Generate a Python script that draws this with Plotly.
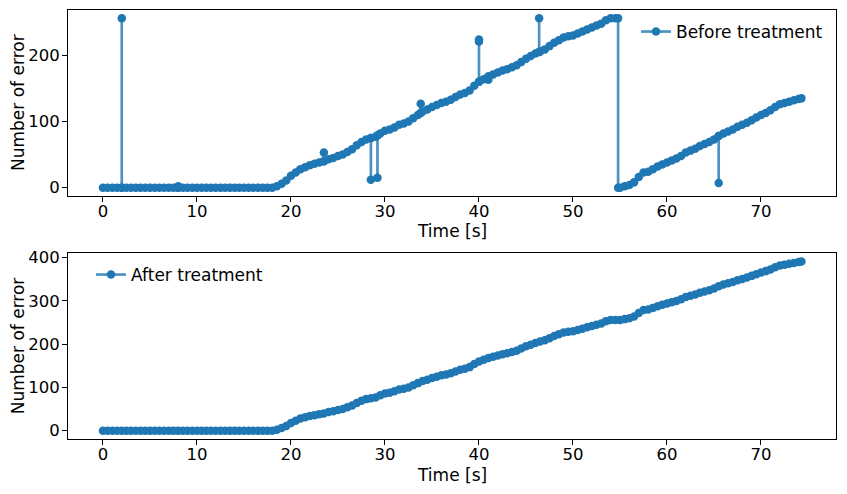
import plotly.graph_objects as go

# ---------------- data ----------------
time_after = [
    0.0, 0.5, 1.0, 1.5, 2.0, 2.5, 3.0, 3.5, 4.0, 4.5, 5.0, 5.5, 6.0, 6.5, 7.0, 7.5,
    8.0, 8.5, 9.0, 9.5, 10.0, 10.5, 11.0, 11.5, 12.0, 12.5, 13.0, 13.5, 14.0, 14.5,
    15.0, 15.5, 16.0, 16.5, 17.0, 17.5, 18.0, 18.5, 19.0, 19.5, 20.0, 20.5, 21.0,
    21.5, 22.0, 22.5, 23.0, 23.5, 24.0, 24.5, 25.0, 25.5, 26.0, 26.5, 27.0, 27.5,
    28.0, 28.5, 29.0, 29.5, 30.0, 30.5, 31.0, 31.5, 32.0, 32.5, 33.0, 33.5, 34.0,
    34.5, 35.0, 35.5, 36.0, 36.5, 37.0, 37.5, 38.0, 38.5, 39.0, 39.5, 40.0, 40.5,
    41.0, 41.5, 42.0, 42.5, 43.0, 43.5, 44.0, 44.5, 45.0, 45.5, 46.0, 46.5, 47.0,
    47.5, 48.0, 48.5, 49.0, 49.5, 50.0, 50.5, 51.0, 51.5, 52.0, 52.5, 53.0, 53.5,
    54.0, 54.5, 55.0, 55.5, 56.0, 56.5, 57.0, 57.5, 58.0, 58.5, 59.0, 59.5, 60.0,
    60.5, 61.0, 61.5, 62.0, 62.5, 63.0, 63.5, 64.0, 64.5, 65.0, 65.5, 66.0, 66.5,
    67.0, 67.5, 68.0, 68.5, 69.0, 69.5, 70.0, 70.5, 71.0, 71.5, 72.0, 72.5, 73.0,
    73.5, 74.0, 74.3,
]
errors_after = [
    0, 0, 0, 0, 0, 0, 0, 0, 0, 0, 0, 0, 0, 0, 0, 0,
    0, 0, 0, 0, 0, 0, 0, 0, 0, 0, 0, 0, 0, 0,
    0, 0, 0, 0, 0, 0, 0, 2, 6, 11, 18, 23, 28,
    31, 34, 36, 38, 40, 43, 45, 48, 50, 54, 58, 64, 69,
    73, 75, 77, 82, 86, 88, 91, 95, 97, 100, 105, 110, 115,
    118, 122, 125, 128, 130, 133, 137, 141, 143, 147, 154, 160, 164,
    168, 171, 174, 177, 179, 182, 185, 190, 195, 199, 203, 206, 209,
    214, 219, 223, 227, 229, 230, 233, 236, 239, 242, 245, 248, 253,
    256, 256, 256, 258, 260, 264, 272, 279, 280, 284, 288, 291, 294,
    297, 300, 304, 309, 312, 315, 319, 322, 325, 329, 334, 338, 341,
    344, 348, 351, 354, 358, 362, 366, 369, 373, 378, 382, 384, 386,
    388, 390, 391,
]

time_before = [
    0.0, 0.5, 1.0, 1.5, 2.0, 2.0, 2.0, 2.5, 3.0, 3.5, 4.0, 4.5, 5.0, 5.5, 6.0, 6.5,
    7.0, 7.5, 8.0, 8.0, 8.0, 8.5, 9.0, 9.5, 10.0, 10.5, 11.0, 11.5, 12.0, 12.5,
    13.0, 13.5, 14.0, 14.5, 15.0, 15.5, 16.0, 16.5, 17.0, 17.5, 18.0, 18.5, 19.0,
    19.5, 20.0, 20.5, 21.0, 21.5, 22.0, 22.5, 23.0, 23.5, 23.5, 23.5, 24.0, 24.5,
    25.0, 25.5, 26.0, 26.5, 27.0, 27.5, 28.0, 28.5, 28.5, 28.5, 29.0, 29.2, 29.2,
    29.2, 29.5, 30.0, 30.5, 31.0, 31.5, 32.0, 32.5, 33.0, 33.5, 33.8, 33.8, 33.8,
    34.0, 34.5, 35.0, 35.5, 36.0, 36.5, 37.0, 37.5, 38.0, 38.5, 39.0, 39.5, 40.0,
    40.0, 40.0, 40.0, 40.5, 41.0, 41.0, 41.0, 41.5, 42.0, 42.5, 43.0, 43.5, 44.0,
    44.5, 45.0, 45.5, 46.0, 46.4, 46.4, 46.4, 46.5, 47.0, 47.5, 48.0, 48.5, 49.0,
    49.5, 50.0, 50.5, 51.0, 51.5, 52.0, 52.5, 53.0, 53.5, 54.0, 54.5, 54.8, 54.8,
    55.0, 55.5, 56.0, 56.5, 57.0, 57.5, 58.0, 58.5, 59.0, 59.5, 60.0, 60.5, 61.0,
    61.5, 62.0, 62.5, 63.0, 63.5, 64.0, 64.5, 65.0, 65.5, 65.5, 65.5, 66.0, 66.5,
    67.0, 67.5, 68.0, 68.5, 69.0, 69.5, 70.0, 70.5, 71.0, 71.5, 72.0, 72.5, 73.0,
    73.5, 74.0, 74.3,
]
errors_before = [
    0, 0, 0, 0, 0, 256, 0, 0, 0, 0, 0, 0, 0, 0, 0, 0,
    0, 0, 0, 2, 0, 0, 0, 0, 0, 0, 0, 0, 0, 0,
    0, 0, 0, 0, 0, 0, 0, 0, 0, 0, 0, 2, 6,
    11, 18, 23, 28, 31, 34, 36, 38, 40, 53, 40, 43, 45,
    48, 50, 54, 58, 64, 69, 73, 75, 12, 75, 77, 79, 15,
    79, 82, 86, 88, 91, 95, 97, 100, 105, 110, 113, 127, 113,
    115, 118, 122, 125, 128, 130, 133, 137, 141, 143, 147, 154, 160,
    221, 224, 160, 164, 168, 163, 168, 171, 174, 177, 179, 182, 185,
    190, 195, 199, 203, 205, 256, 205, 206, 209, 214, 219, 223, 227,
    229, 230, 233, 236, 239, 242, 245, 248, 253, 256, 256, 256, 0,
    0, 2, 4, 8, 16, 23, 24, 28, 32, 35, 38, 41, 44,
    48, 53, 56, 59, 63, 66, 69, 73, 78, 7, 78, 82, 85,
    88, 92, 95, 98, 102, 106, 110, 113, 117, 122, 126, 128, 130,
    132, 134, 135,
]

x_ticks = [0, 10, 20, 30, 40, 50, 60, 70]
y_ticks_top = [0, 100, 200]
y_ticks_bottom = [0, 100, 200, 300, 400]

# ---------------- figure ----------------
# page body has an 8px margin, so the figure is 16px smaller than the window
W, H = 831, 478
OFF = 8  # offset from window pixels to figure pixels


def px_x(x):
    return (x - OFF) / W


def px_y(y):
    return 1 - (y - OFF) / H


BLUE_LINE = "rgba(31,119,180,0.8)"
BLUE_MARK = "rgb(31,119,180)"
FONT = dict(family="DejaVu Sans", size=17, color="black")
TICKFONT = dict(family="DejaVu Sans", size=16.5, color="black")

fig = go.Figure()
fig.add_trace(go.Scatter(
    x=time_before, y=errors_before, mode="lines+markers", name="Before treatment",
    line=dict(color=BLUE_LINE, width=2.7), marker=dict(color=BLUE_MARK, size=8.5),
    xaxis="x", yaxis="y", legend="legend", showlegend=True,
))
fig.add_trace(go.Scatter(
    x=time_after, y=errors_after, mode="lines+markers", name="After treatment",
    line=dict(color=BLUE_LINE, width=2.7), marker=dict(color=BLUE_MARK, size=8.5),
    xaxis="x2", yaxis="y2", legend="legend2", showlegend=True,
))

xdom = [px_x(68), px_x(836)]
ax_common = dict(showline=True, linecolor="black", linewidth=1, mirror=True,
                 ticks="outside", ticklen=5, tickwidth=1, tickcolor="black",
                 showgrid=False, zeroline=False, tickfont=TICKFONT, automargin=False)
x_common = dict(ax_common, ticklabelstandoff=-5)
y_common = dict(ax_common, ticklabelstandoff=-1)

fig.update_layout(
    width=W, height=H,
    margin=dict(l=0, r=0, t=0, b=0, autoexpand=False),
    paper_bgcolor="white", plot_bgcolor="white",
    font=FONT,
    showlegend=True,
    xaxis=dict(domain=xdom, range=[-3.72, 77.98], tickvals=x_ticks, anchor="y",
               **x_common),
    yaxis=dict(domain=[px_y(196), px_y(10)], range=[-12.6, 268.6],
               tickvals=y_ticks_top, anchor="x", **y_common),
    xaxis2=dict(domain=xdom, range=[-3.72, 77.98], tickvals=x_ticks, anchor="y2",
                **x_common),
    yaxis2=dict(domain=[px_y(439.3), px_y(253.3)], range=[-19.9, 410.2],
                tickvals=y_ticks_bottom, anchor="x2", **y_common),
    legend=dict(x=px_x(636), xanchor="left", y=px_y(32), yanchor="middle",
                bgcolor="rgba(0,0,0,0)", font=FONT),
    legend2=dict(x=px_x(91), xanchor="left", y=px_y(275), yanchor="middle",
                 bgcolor="rgba(0,0,0,0)", font=FONT),
    annotations=[
        dict(text="Time [s]", x=px_x(452), y=px_y(231), xref="paper", yref="paper",
             xanchor="center", yanchor="middle", showarrow=False, font=FONT),
        dict(text="Time [s]", x=px_x(452), y=px_y(475), xref="paper", yref="paper",
             xanchor="center", yanchor="middle", showarrow=False, font=FONT),
        dict(text="Number of error", x=px_x(18), y=px_y(103), xref="paper", yref="paper",
             xanchor="center", yanchor="middle", textangle=-90, showarrow=False, font=FONT),
        dict(text="Number of error", x=px_x(18), y=px_y(346.3), xref="paper", yref="paper",
             xanchor="center", yanchor="middle", textangle=-90, showarrow=False, font=FONT),
    ],
)

fig.write_html("out.html")
